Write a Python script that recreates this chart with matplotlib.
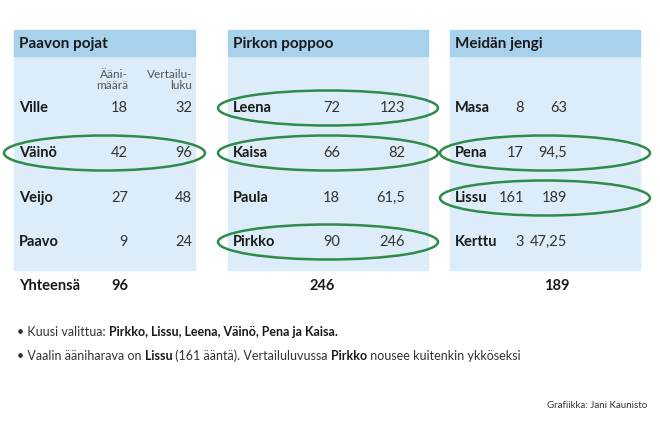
import matplotlib
matplotlib.use("Agg")
import matplotlib.pyplot as plt
from matplotlib.patches import Rectangle, Ellipse

plt.rcParams['font.family'] = ['Lato', 'DejaVu Sans']

groups = ["Paavon pojat", "Pirkon poppoo", "Meidän jengi"]
names = [["Ville", "Väinö", "Veijo", "Paavo"],
         ["Leena", "Kaisa", "Paula", "Pirkko"],
         ["Masa", "Pena", "Lissu", "Kerttu"]]
votes = [[18, 42, 27, 9], [72, 66, 18, 90], [8, 17, 161, 3]]
compare = [["32", "96", "48", "24"], ["123", "82", "61,5", "246"], ["63", "94,5", "189", "47,25"]]
totals = [96, 246, 189]
selected = [[False, True, False, False], [True, True, False, True], [False, True, True, False]]

fig = plt.figure(figsize=(6.6, 4.4), dpi=100)
ax = fig.add_axes([0, 0, 1, 1])
ax.set_xlim(0, 660); ax.set_ylim(440, 0); ax.axis('off')

panels = [(14, 195), (228, 428), (450, 640)]
c1 = [128, 340, 524]
c2 = [192, 405, 567]
tot_x = [128, 335, 570]
rows_y = [108, 153, 198, 242]
green = '#2e8b4a'
dark = '#1a1a1a'
for g in range(3):
    x0, x1 = panels[g]
    ax.add_patch(Rectangle((x0, 56), x1 - x0, 214, color='#dcedf9', zorder=0))
    ax.add_patch(Rectangle((x0, 30), x1 - x0, 26, color='#a8d1ec', zorder=0))
    ax.text(x0 + 5, 44, groups[g], fontsize=11, fontweight='bold', va='center', color=dark)
    for i in range(4):
        y = rows_y[i]
        ax.text(x0 + 5, y, names[g][i], fontsize=10.5, fontweight='bold', va='center', color=dark)
        ax.text(c1[g], y, str(votes[g][i]), fontsize=10.5, ha='right', va='center', color='#333')
        ax.text(c2[g], y, compare[g][i], fontsize=10.5, ha='right', va='center', color='#333')
        if selected[g][i]:
            cx = (x0 + x1) / 2
            ax.add_patch(Ellipse((cx, y), (x1 - x0) + 20, 35, fill=False, ec=green, lw=1.8, zorder=3))
    ax.text(tot_x[g], 286, str(totals[g]), fontsize=10.5, fontweight='bold',
            ha='right', va='center', color=dark)
ax.text(19, 286, "Yhteensä", fontsize=10.5, fontweight='bold', va='center', color=dark)
ax.text(c1[0], 80, "Ääni-\nmäärä", fontsize=8.5, ha='right', va='center', color='#555',
        linespacing=1.1, multialignment='right')
ax.text(c2[0], 80, "Vertailu-\nluku", fontsize=8.5, ha='right', va='center', color='#555',
        linespacing=1.1, multialignment='right')

fig.canvas.draw()
r = fig.canvas.get_renderer()

def line(y, parts):
    x = 17
    for s, b in parts:
        t = ax.text(x, y, s, fontsize=9, fontweight='bold' if b else 'normal', va='center',
                    color=dark if b else '#333')
        bb = t.get_window_extent(renderer=r)
        x += bb.width

line(332, [("• Kuusi valittua: ", False), ("Pirkko, Lissu, Leena, Väinö, Pena ja Kaisa.", True)])
line(356, [("• Vaalin ääniharava on ", False), ("Lissu", True), (" (161 ääntä). Vertailuluvussa ", False),
           ("Pirkko", True), (" nousee kuitenkin ykköseksi", False)])
ax.text(647, 405, "Grafiikka: Jani Kaunisto", fontsize=7, ha='right', va='center', color='#333')
fig.savefig("out.png", dpi=100)
